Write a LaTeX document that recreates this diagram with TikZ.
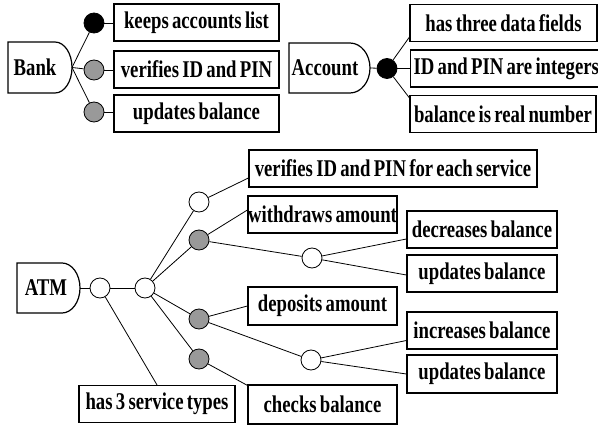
\documentclass[tikz,border=0pt]{standalone}
\usepackage{fontspec}
\setmainfont{Liberation Serif}
\newfontfamily\boxfont[WordSpace=0.7,FakeStretch=0.78]{Liberation Serif Bold}
\usetikzlibrary{calc}
\begin{document}
\begin{tikzpicture}[x=1pt,y=-1pt,
  txt/.style={font=\boxfont\fontsize{24}{24}\selectfont},
  box/.style={txt, draw, line width=1.2pt, inner sep=0pt, minimum height=37pt},
  dshape/.style={draw, line width=1.2pt},
  dot/.style={circle, draw, line width=0.8pt, minimum size=20pt, inner sep=0pt},
  blk/.style={dot, fill=black},
  gry/.style={dot, fill=black!40},
  wht/.style={dot, fill=white},
  conn/.style={line width=0.8pt}]
\useasboundingbox (0,0) rectangle (598,425);

% ---------- Bank ----------
\draw[dshape] (8,42) -- (55,42) .. controls (64.4,42) and (72,53.4) .. (72,67.5)
  .. controls (72,81.6) and (64.4,93) .. (55,93) -- (8,93) -- cycle;
\node[txt] (bank) at (35,67.5) {Bank};
\coordinate (bankR) at (72,67.5);
\node[blk] (b1) at (94,23) {};
\node[gry] (b2) at (94,70) {};
\node[gry] (b3) at (94,112) {};
\node[box, minimum width=165pt] (keeps) at (196.5,22.5) {keeps accounts list};
\node[box, minimum width=165pt] (verB) at (196.5,69.5) {verifies ID and PIN};
\node[box, minimum width=165pt] (updB) at (196.5,113.5) {updates balance};
\draw[conn] (bankR) -- (b1);
\draw[conn] (bankR) -- (b2);
\draw[conn] (bankR) -- (b3);
\draw[conn] (b1) -- (keeps.west |- b1);
\draw[conn] (b2) -- (verB.west |- b2);
\draw[conn] (b3) -- (updB.west |- b3);

% ---------- Account ----------
\draw[dshape] (289,43) -- (350,43) .. controls (361,43) and (370,54.2) .. (370,68)
  .. controls (370,81.8) and (361,93) .. (350,93) -- (289,93) -- cycle;
\node[txt] (acc) at (325,68) {Account};
\coordinate (accR) at (370,68);
\node[blk] (a1) at (387,68.5) {};
\node[box, minimum width=187pt] (fields) at (503.5,23) {has three data fields};
\node[box, inner xsep=3pt, anchor=west] (ints) at (410,68.5) {ID and PIN are integers};
\node[box, minimum width=186pt] (real) at (503,114) {balance is real number};
\draw[conn] (accR) -- (a1);
\draw[conn] (a1) -- ([yshift=5pt]fields.south west);
\draw[conn] (a1) -- (ints.west |- a1);
\draw[conn] (a1) -- ([yshift=-3pt]real.north west);

% ---------- ATM ----------
\draw[dshape] (17,263) -- (62,263) .. controls (71.9,263) and (80,274.2) .. (80,288)
  .. controls (80,301.8) and (71.9,313) .. (62,313) -- (17,313) -- cycle;
\node[txt] (atm) at (46,288) {ATM};
\coordinate (atmR) at (80,288);
\node[wht] (c1) at (100,288) {};
\node[wht] (c2) at (145,288) {};
\node[wht] (w1) at (199,202) {};
\node[gry] (g1) at (199,240) {};
\node[gry] (g2) at (199,319) {};
\node[gry] (g3) at (199,359) {};
\node[wht] (s1) at (312,258) {};
\node[wht] (s2) at (311,360) {};

\node[box, minimum width=156pt] (svc) at (157,404) {has 3 service types};
\node[box, minimum width=288pt] (verA) at (393,168.5) {verifies ID and PIN for each service};
\node[box, minimum width=149pt] (wd) at (322.5,214.5) {withdraws amount};
\node[box, minimum width=150pt] (dec) at (482,229.5) {decreases balance};
\node[box, minimum width=150pt] (up1) at (482,273.5) {updates balance};
\node[box, minimum width=149pt, minimum height=38pt] (dep) at (322.5,306) {deposits amount};
\node[box, minimum width=150pt] (inc) at (482,330.5) {increases balance};
\node[box, minimum width=150pt, minimum height=38pt] (up2) at (482,374) {updates balance};
\node[box, minimum width=149pt, minimum height=39pt] (chk) at (322.5,404.5) {checks balance};

\draw[conn] (atmR) -- (c1);
\draw[conn] (c1) -- (c2);
\draw[conn] (c1) -- (svc.north);
\draw[conn] (c2) -- (w1);
\draw[conn] (c2) -- (g1);
\draw[conn] (c2) -- (g2);
\draw[conn] (c2) -- (g3);
\draw[conn] (w1) -- ([yshift=-9.5pt]verA.west);
\draw[conn] (g1) -- ([yshift=4.5pt]wd.west);
\draw[conn] (g1) -- (s1);
\draw[conn] (s1) -- ([yshift=-9.5pt]dec.west);
\draw[conn] (s1) -- ([yshift=-1.5pt]up1.west);
\draw[conn] (g2) -- (dep.west);
\draw[conn] (g2) -- (s2);
\draw[conn] (s2) -- ([yshift=-10pt]inc.west);
\draw[conn] (s2) -- (up2.west);
\draw[conn] (g3) -- ([yshift=-1pt]chk.north west);
\end{tikzpicture}
\end{document}
